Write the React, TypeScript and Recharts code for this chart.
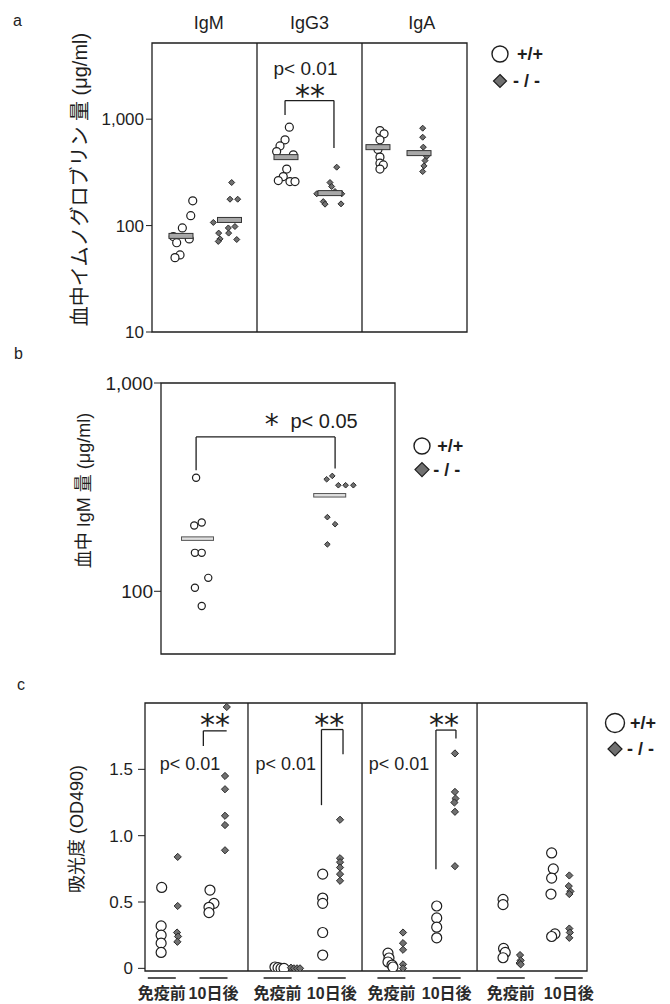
import React from 'react';
import { ScatterChart, Scatter, XAxis, YAxis, ReferenceLine, ReferenceArea, ReferenceDot, Legend } from 'recharts';

const FONT = "'Liberation Sans', Arial, 'Noto Sans CJK JP', sans-serif";
const INK = '#1e1e1e';
const KO_FILL = '#707070';

// ---------- Panel a ----------
const aTitles = ['IgM', 'IgG3', 'IgA'];
const aTitleX = [0.54, 1.5, 2.57];
const aYTicks = [10, 100, 1000];
const aDividers = [1, 2];
const aIgMWild = [171, 124, 95, 79, 75, 69, 53, 50];
const aIgMWildX = [0.388, 0.369, 0.289, 0.203, 0.355, 0.235, 0.267, 0.219];
const aIgMKO = [254, 177, 177, 107, 98, 95, 85, 85, 75, 71, 74];
const aIgMKOX = [0.759, 0.743, 0.816, 0.584, 0.79, 0.727, 0.635, 0.73, 0.648, 0.631, 0.807];
const aIgG3Wild = [841, 640, 561, 496, 462, 340, 289, 265, 259, 259];
const aIgG3WildX = [1.308, 1.267, 1.219, 1.187, 1.346, 1.283, 1.25, 1.203, 1.314, 1.362];
const aIgG3KO = [354, 254, 233, 209, 199, 199, 168, 159, 160];
const aIgG3KOX = [1.759, 1.695, 1.711, 1.743, 1.569, 1.807, 1.631, 1.648, 1.8];
const aIgAWild = [782, 728, 640, 520, 440, 386, 372, 340];
const aIgAWildX = [2.171, 2.21, 2.171, 2.152, 2.171, 2.171, 2.203, 2.171];
const aIgAKO = [823, 677, 546, 446, 408, 364, 322];
const aIgAKOX = [2.578, 2.578, 2.584, 2.616, 2.6, 2.59, 2.578];
const aMedianWild = [80, 440, 546];
const aMedianWildX = [0.276, 1.276, 2.152];
const aMedianKO = [113, 202, 480];
const aMedianKOX = [0.738, 1.695, 2.543];
const aBracketX = [1.267, 1.733];
const aBracketY = [1097, 1496, 535]; // left end, top, right end
const aStars = { x: 1.505, y: 1815 };
const aPText = { x: 1.462, y: 3015, text: 'p< 0.01' };

// ---------- Panel b ----------
const bYTicks = [100, 1000];
const bWild = [351, 207, 214, 153, 153, 116, 104, 85];
const bWildX = [0.15, 0.142, 0.174, 0.145, 0.174, 0.202, 0.145, 0.174];
const bKO = [345, 358, 323, 323, 323, 227, 210, 168];
const bKOX = [0.708, 0.732, 0.758, 0.789, 0.822, 0.711, 0.744, 0.711];
const bMedian = [179, 289];
const bMedianX = [0.156, 0.721];
const bBracketX = [0.15, 0.744];
const bBracketY = [381, 551, 389];
const bStar = { x: 0.473, y: 655 };
const bPText = { x: 0.697, y: 660, text: 'p< 0.05' };

// ---------- Panel c ----------
const cTitles = ['IgM', 'IgG3', 'IgG1', 'IgG2b'];
const cTitleX = [0.498, 1.448, 2.534, 3.514];
const cGroupLabels = ['免疫前', '10日後', '免疫前', '10日後', '免疫前', '10日後', '免疫前', '10日後'];
const cGroupX = [0.152, 0.62, 1.2, 1.69, 2.23, 2.73, 3.31, 3.835];
const cYTicks = [0, 0.5, 1.0, 1.5];
const cDividers = [0.932, 1.964, 3.005];

const cIgMPreWild = [0.61, 0.32, 0.25, 0.19, 0.12];
const cIgMPreWildX = [0.151, 0.146, 0.146, 0.146, 0.146];
const cIgMPreKO = [0.84, 0.47, 0.27, 0.24, 0.2];
const cIgMPreKOX = [0.296, 0.296, 0.29, 0.299, 0.293];
const cIgMPostWild = [0.59, 0.49, 0.46, 0.42];
const cIgMPostWildX = [0.588, 0.624, 0.579, 0.579];
const cIgMPostKO = [1.97, 1.45, 1.35, 1.15, 1.08, 0.89];
const cIgMPostKOX = [0.74, 0.724, 0.724, 0.724, 0.724, 0.724];

const cIgG3PreWild = [0.01, 0.005, 0.0, 0.0];
const cIgG3PreWildX = [1.176, 1.204, 1.231, 1.258];
const cIgG3PreKO = [0.005, 0.0, 0.0, 0.0];
const cIgG3PreKOX = [1.321, 1.348, 1.376, 1.403];
const cIgG3PostWild = [0.71, 0.53, 0.49, 0.27, 0.1];
const cIgG3PostWildX = [1.608, 1.608, 1.608, 1.608, 1.608];
const cIgG3PostKO = [1.12, 0.83, 0.8, 0.76, 0.71, 0.66];
const cIgG3PostKOX = [1.765, 1.765, 1.765, 1.765, 1.765, 1.765];

const cIgG1PreWild = [0.115, 0.078, 0.048, 0.025, 0.01];
const cIgG1PreWildX = [2.199, 2.208, 2.199, 2.235, 2.244];
const cIgG1PreKO = [0.27, 0.19, 0.14, 0.03, 0.0];
const cIgG1PreKOX = [2.335, 2.335, 2.335, 2.335, 2.335];
const cIgG1PostWild = [0.47, 0.38, 0.31, 0.23];
const cIgG1PostWildX = [2.64, 2.64, 2.64, 2.64];
const cIgG1PostKO = [1.62, 1.33, 1.28, 1.25, 1.18, 0.77];
const cIgG1PostKOX = [2.805, 2.805, 2.81, 2.8, 2.805, 2.805];

const cIgG2bPreWild = [0.52, 0.48, 0.15, 0.12, 0.08];
const cIgG2bPreWildX = [3.24, 3.24, 3.245, 3.26, 3.24];
const cIgG2bPreKO = [0.1, 0.06, 0.04, 0.03];
const cIgG2bPreKOX = [3.394, 3.4, 3.39, 3.4];
const cIgG2bPostWild = [0.87, 0.75, 0.68, 0.56, 0.26, 0.24];
const cIgG2bPostWildX = [3.68, 3.695, 3.68, 3.674, 3.71, 3.68];
const cIgG2bPostKO = [0.7, 0.62, 0.58, 0.56, 0.3, 0.27, 0.23];
const cIgG2bPostKOX = [3.84, 3.835, 3.85, 3.84, 3.84, 3.845, 3.84];

const cBracketX = [[0.528, 0.739], [1.597, 1.792], [2.633, 2.814]];
const cBracketY = [[1.675, 1.79, 1.79], [1.23, 1.8, 1.614], [0.746, 1.796, 1.733]];
const cStarX = [0.633, 1.668, 2.706];
const cStarY = 1.858;
const cPTextX = [0.407, 1.273, 2.299];
const cPTextY = 1.54;

// ---------- helpers ----------
const pts = (vals: number[], xs: number[]) => vals.map((v, i) => ({ x: xs[i], y: v }));

const circleShape = (r: number) => (p: any) => (
  <circle cx={p.cx} cy={p.cy} r={r} fill="#fff" stroke={INK} strokeWidth={1.2} />
);
const diamondPts = (cx: number, cy: number, h: number) =>
  `${cx},${cy - h} ${cx + h},${cy} ${cx},${cy + h} ${cx - h},${cy}`;
const diamondShape = (h: number) => (p: any) => (
  <polygon points={diamondPts(p.cx, p.cy, h)} fill={KO_FILL} stroke="#2a2a2a" strokeWidth={1} />
);
const barShape = (w: number, h: number, fill: string, stroke: string) => (p: any) => (
  <rect x={p.cx - w / 2} y={p.cy - h / 2} width={w} height={h} fill={fill} stroke={stroke} strokeWidth={1} />
);

const rotatedLabel = (text: string, size: number, dy: number) => (props: any) => {
  const vb = props.viewBox || {};
  const cx = vb.x + vb.width / 2;
  const cy = vb.y + vb.height / 2 + dy;
  return (
    <text x={cx} y={cy} transform={`rotate(-90 ${cx} ${cy})`} textAnchor="middle" dominantBaseline="central"
      fontSize={size} fontFamily={FONT} fill={INK}>{text}</text>
  );
};

const textAt = (text: string, size: number, dy: string | number = 0, family: string = FONT) => (props: any) => {
  const vb = props.viewBox || {};
  const x = (vb.x || 0) + (vb.width || 0) / 2;
  const y = (vb.y || 0) + (vb.height || 0) / 2;
  return (
    <text x={x} y={y} dy={dy} textAnchor="middle" dominantBaseline="central" fontSize={size}
      fontFamily={family} fill={INK}>{text}</text>
  );
};

const STAR_FONT = "'DejaVu Sans', sans-serif";

const titleTick = (labels: string[], size: number) => (props: any) => (
  <text x={props.x} y={props.y} textAnchor="middle" dominantBaseline="central" fontSize={size}
    fontFamily={FONT} fill={INK}>{labels[props.index]}</text>
);

const cBottomTick = (props: any) => {
  const { x, y, index } = props;
  return (
    <g>
      <line x1={x - 14} x2={x + 14} y1={y - 15} y2={y - 15} stroke="#555" strokeWidth={2} />
      <text x={x} y={y} textAnchor="middle" dominantBaseline="central" fontSize={16} fontWeight="bold"
        fontFamily={FONT} fill="#2a2a2a">
        {cGroupLabels[index]}
      </text>
    </g>
  );
};

const LegendKey = ({ r, h, size, dy, tx1, tx2 }: any) => (
  <svg width={80} height={dy + 26} style={{ overflow: 'visible', display: 'block' }}>
    <circle cx={12} cy={12} r={r} fill="#fff" stroke={INK} strokeWidth={1.4} />
    <text x={12 + tx1} y={12} dominantBaseline="central" fontSize={size} fontWeight="bold" fontFamily={FONT} fill={INK}>+/+</text>
    <polygon points={diamondPts(12, 12 + dy, h)} fill={KO_FILL} stroke={INK} strokeWidth={1.2} />
    <text x={12 + tx2} y={12 + dy} dominantBaseline="central" fontSize={size} fontWeight="bold" fontFamily={FONT} fill={INK}>- / -</text>
  </svg>
);

const tickStyle = (size: number) => ({ fontSize: size, fill: INK, fontFamily: FONT });
const fmtThousands = (v: number) => v.toLocaleString('en-US');
const line = { stroke: INK, strokeWidth: 1.3 };

function PanelA() {
  const wild = [...pts(aIgMWild, aIgMWildX), ...pts(aIgG3Wild, aIgG3WildX), ...pts(aIgAWild, aIgAWildX)];
  const ko = [...pts(aIgMKO, aIgMKOX), ...pts(aIgG3KO, aIgG3KOX), ...pts(aIgAKO, aIgAKOX)];
  return (
    <ScatterChart width={670} height={345} margin={{ top: 13, right: 203, bottom: 13, left: 8 }}>
      <XAxis type="number" dataKey="x" orientation="top" domain={[0, 3]} ticks={aTitleX} interval={0} height={30}
        axisLine={false} tickLine={false} tickSize={0} tickMargin={20} tick={titleTick(aTitles, 18)} allowDataOverflow />
      <YAxis type="number" dataKey="y" scale="log" domain={[10, 5200]} ticks={aYTicks} interval={0} width={144}
        allowDataOverflow axisLine={false} tickLine={{ stroke: INK }} tickSize={6} tickMargin={2}
        tick={tickStyle(17)} tickFormatter={fmtThousands}
        label={rotatedLabel('血中イムノグロブリン 量 (μg/ml)', 20, -8)} />
      <ReferenceArea x1={0} x2={3} y1={10} y2={5200} fill="none" stroke={INK} strokeWidth={1.3} />
      {aDividers.map((d) => <ReferenceLine key={d} x={d} {...line} />)}
      <ReferenceLine segment={[{ x: aBracketX[0], y: aBracketY[0] }, { x: aBracketX[0], y: aBracketY[1] }]} {...line} />
      <ReferenceLine segment={[{ x: aBracketX[0], y: aBracketY[1] }, { x: aBracketX[1], y: aBracketY[1] }]} {...line} />
      <ReferenceLine segment={[{ x: aBracketX[1], y: aBracketY[1] }, { x: aBracketX[1], y: aBracketY[2] }]} {...line} />
      <Scatter name="+/+" data={wild} shape={circleShape(4)} isAnimationActive={false} />
      <Scatter name="-/-" data={ko} shape={diamondShape(3)} isAnimationActive={false} />
      <Scatter data={pts(aMedianWild, aMedianWildX)} shape={barShape(24, 5, '#a8a8a8', '#333')} isAnimationActive={false} />
      <Scatter data={pts(aMedianKO, aMedianKOX)} shape={barShape(24, 5, '#a8a8a8', '#333')} isAnimationActive={false} />
      <ReferenceDot x={aStars.x} y={aStars.y} r={0} fill="none" stroke="none" label={textAt('**', 30, '0.12em', STAR_FONT)} />
      <ReferenceDot x={aPText.x} y={aPText.y} r={0} fill="none" stroke="none" label={textAt(aPText.text, 19)} />
      <Legend layout="vertical" align="center" verticalAlign="middle"
        wrapperStyle={{ left: 488, top: 42, width: 80, height: 60 }}
        content={() => <LegendKey r={8} h={6.5} size={18} dy={27} tx1={17} tx2={13} />} />
    </ScatterChart>
  );
}

function PanelB() {
  return (
    <ScatterChart width={670} height={320} margin={{ top: 38, right: 275, bottom: 11, left: 7 }}>
      <XAxis type="number" dataKey="x" domain={[0, 1]} hide allowDataOverflow />
      <YAxis type="number" dataKey="y" scale="log" domain={[50, 1000]} ticks={bYTicks} interval={0} width={154}
        allowDataOverflow axisLine={false} tickLine={{ stroke: INK }} tickSize={7} tickMargin={1}
        tick={tickStyle(19)} tickFormatter={fmtThousands}
        label={rotatedLabel('血中 IgM 量 (μg/ml)', 18, -28)} />
      <ReferenceArea x1={0} x2={1} y1={50} y2={1000} fill="none" stroke={INK} strokeWidth={1.3} />
      <ReferenceLine segment={[{ x: bBracketX[0], y: bBracketY[0] }, { x: bBracketX[0], y: bBracketY[1] }]} {...line} />
      <ReferenceLine segment={[{ x: bBracketX[0], y: bBracketY[1] }, { x: bBracketX[1], y: bBracketY[1] }]} {...line} />
      <ReferenceLine segment={[{ x: bBracketX[1], y: bBracketY[1] }, { x: bBracketX[1], y: bBracketY[2] }]} {...line} />
      <Scatter name="+/+" data={pts(bWild, bWildX)} shape={circleShape(3.6)} isAnimationActive={false} />
      <Scatter name="-/-" data={pts(bKO, bKOX)} shape={diamondShape(2.8)} isAnimationActive={false} />
      <Scatter data={pts(bMedian, bMedianX)} shape={barShape(32, 3.5, '#e0e0e0', '#555')} isAnimationActive={false} />
      <ReferenceDot x={bStar.x} y={bStar.y} r={0} fill="none" stroke="none" label={textAt('*', 28, '0.12em', STAR_FONT)} />
      <ReferenceDot x={bPText.x} y={bPText.y} r={0} fill="none" stroke="none" label={textAt(bPText.text, 20)} />
      <Legend layout="vertical" align="center" verticalAlign="middle"
        wrapperStyle={{ left: 409.7, top: 88.7, width: 80, height: 60 }}
        content={() => <LegendKey r={8} h={7} size={18} dy={23.6} tx1={15.3} tx2={11.3} />} />
    </ScatterChart>
  );
}

function PanelC() {
  const wild = [
    ...pts(cIgMPreWild, cIgMPreWildX), ...pts(cIgMPostWild, cIgMPostWildX),
    ...pts(cIgG3PreWild, cIgG3PreWildX), ...pts(cIgG3PostWild, cIgG3PostWildX),
    ...pts(cIgG1PreWild, cIgG1PreWildX), ...pts(cIgG1PostWild, cIgG1PostWildX),
    ...pts(cIgG2bPreWild, cIgG2bPreWildX), ...pts(cIgG2bPostWild, cIgG2bPostWildX),
  ];
  const ko = [
    ...pts(cIgMPreKO, cIgMPreKOX), ...pts(cIgMPostKO, cIgMPostKOX),
    ...pts(cIgG3PreKO, cIgG3PreKOX), ...pts(cIgG3PostKO, cIgG3PostKOX),
    ...pts(cIgG1PreKO, cIgG1PreKOX), ...pts(cIgG1PostKO, cIgG1PostKOX),
    ...pts(cIgG2bPreKO, cIgG2bPreKOX), ...pts(cIgG2bPostKO, cIgG2bPostKOX),
  ];
  return (
    <ScatterChart width={670} height={339} margin={{ top: 18, right: 83, bottom: 3, left: 8 }}>
      <XAxis xAxisId="top" type="number" orientation="top" domain={[0, 4]} ticks={cTitleX} interval={0} height={20}
        axisLine={false} tickLine={false} tickSize={0} tickMargin={13} tick={titleTick(cTitles, 17)} allowDataOverflow />
      <XAxis type="number" dataKey="x" domain={[0, 4]} ticks={cGroupX} interval={0} height={30}
        axisLine={false} tickLine={false} tickSize={0} tickMargin={22} tick={cBottomTick} allowDataOverflow />
      <YAxis type="number" dataKey="y" domain={[-0.02, 2]} ticks={cYTicks} interval={0} width={137}
        allowDataOverflow axisLine={false} tickLine={{ stroke: INK }} tickSize={7} tickMargin={5}
        tick={tickStyle(17)} tickFormatter={(v: number) => (v === 0 ? '0' : v.toFixed(1))}
        label={rotatedLabel('吸光度 (OD490)', 18, -8)} />
      <ReferenceArea x1={0} x2={4} y1={-0.02} y2={2} fill="none" stroke={INK} strokeWidth={1.3} />
      {cDividers.map((d) => <ReferenceLine key={d} x={d} {...line} />)}
      {cBracketX.map((bx, i) => (
        <React.Fragment key={i}>
          <ReferenceLine segment={[{ x: bx[0], y: cBracketY[i][0] }, { x: bx[0], y: cBracketY[i][1] }]} {...line} />
          <ReferenceLine segment={[{ x: bx[0], y: cBracketY[i][1] }, { x: bx[1], y: cBracketY[i][1] }]} {...line} />
          <ReferenceLine segment={[{ x: bx[1], y: cBracketY[i][1] }, { x: bx[1], y: cBracketY[i][2] }]} {...line} />
          <ReferenceDot x={cStarX[i]} y={cStarY} r={0} fill="none" stroke="none" label={textAt('**', 30, '0.1em', STAR_FONT)} />
          <ReferenceDot x={cPTextX[i]} y={cPTextY} r={0} fill="none" stroke="none" label={textAt('p< 0.01', 18)} />
        </React.Fragment>
      ))}
      <Scatter name="+/+" data={wild} shape={circleShape(5)} isAnimationActive={false} />
      <Scatter name="-/-" data={ko} shape={diamondShape(3.6)} isAnimationActive={false} />
      <Legend layout="vertical" align="center" verticalAlign="middle"
        wrapperStyle={{ left: 603, top: 46.3, width: 80, height: 60 }}
        content={() => <LegendKey r={9.5} h={7} size={18} dy={26} tx1={15} tx2={12} />} />
    </ScatterChart>
  );
}

const panelLetter = (t: string, left: number, top: number) => (
  <div style={{ position: 'absolute', left, top, fontFamily: FONT, fontSize: 16, color: INK, lineHeight: '16px' }}>{t}</div>
);

export default function App() {
  return (
    <div style={{ position: 'absolute', left: 0, top: 0, width: 670, height: 1004, background: '#fff', overflow: 'hidden' }}>
      {panelLetter('a', 13, 13)}
      {panelLetter('b', 14, 346)}
      {panelLetter('c', 17, 677)}
      <div style={{ position: 'absolute', left: 0, top: 0 }}><PanelA /></div>
      <div style={{ position: 'absolute', left: 0, top: 345 }}><PanelB /></div>
      <div style={{ position: 'absolute', left: 0, top: 665 }}><PanelC /></div>
    </div>
  );
}
